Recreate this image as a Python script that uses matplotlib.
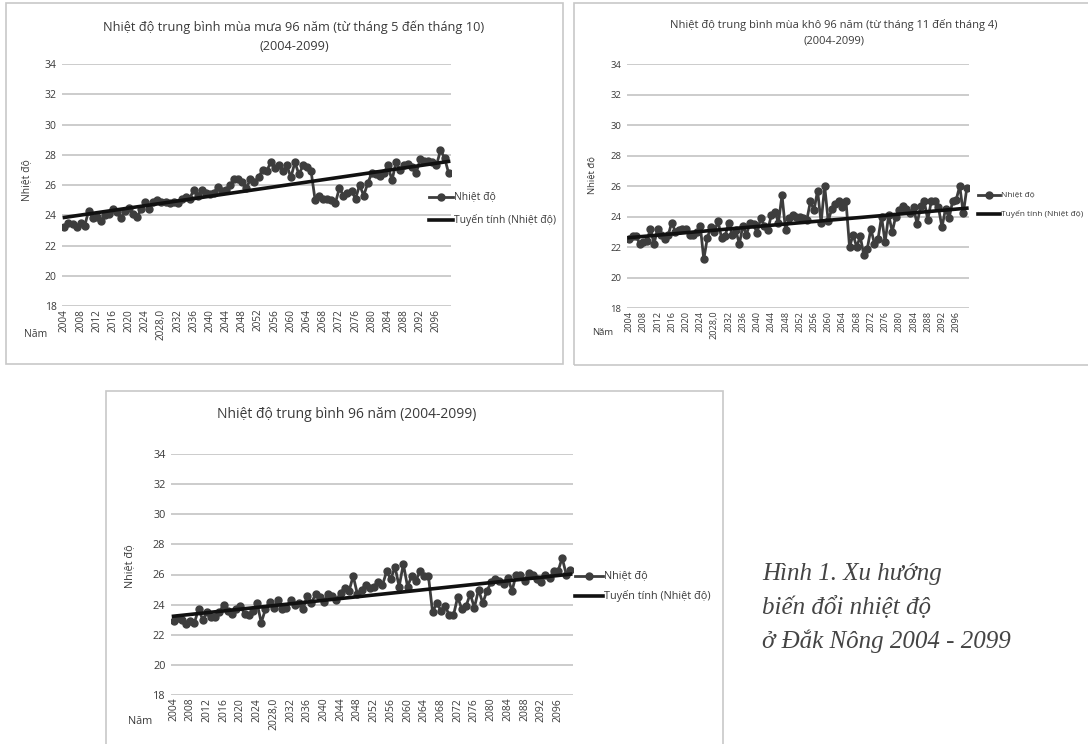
import numpy as np
import matplotlib
matplotlib.use("Agg")
import matplotlib.pyplot as plt
from matplotlib.patches import Rectangle

plt.rcParams['font.family'] = ['Open Sans', 'DejaVu Sans']

W, H = 1088, 744

years = list(range(2004, 2100))
tick_years = years[::4]
tick_labels = [("2028,0" if y == 2028 else str(y)) for y in tick_years]

# Mùa mưa (tháng 5 - tháng 10)
rainy = [
    23.2, 23.5, 23.4, 23.2, 23.5, 23.3, 24.3, 23.8,
    23.9, 23.6, 24.0, 24.1, 24.4, 24.2, 23.8, 24.3,
    24.5, 24.1, 23.9, 24.4, 24.9, 24.4, 24.9, 25.0,
    24.9, 24.9, 24.8, 24.9, 24.8, 25.1, 25.2, 25.1,
    25.7, 25.3, 25.7, 25.5, 25.4, 25.5, 25.9, 25.6,
    25.7, 26.0, 26.4, 26.4, 26.2, 25.8, 26.4, 26.2,
    26.5, 27.0, 26.9, 27.5, 27.1, 27.3, 26.9, 27.3,
    26.5, 27.5, 26.7, 27.3, 27.2, 26.9, 25.0, 25.3,
    25.1, 25.1, 25.0, 24.8, 25.8, 25.3, 25.5, 25.6,
    25.1, 26.0, 25.3, 26.1, 26.8, 26.7, 26.6, 26.8,
    27.3, 26.3, 27.5, 27.0, 27.3, 27.4, 27.2, 26.8,
    27.7, 27.6, 27.6, 27.5, 27.3, 28.3, 27.8, 26.8,
]

# Mùa khô (tháng 11 - tháng 4)
dry = [
    22.5, 22.7, 22.7, 22.2, 22.3, 22.4, 23.2, 22.2,
    23.2, 22.8, 22.5, 22.8, 23.6, 23.0, 23.1, 23.2,
    23.2, 22.8, 22.8, 23.0, 23.4, 21.2, 22.6, 23.3,
    23.0, 23.7, 22.6, 22.7, 23.6, 22.8, 23.1, 22.2,
    23.4, 22.8, 23.6, 23.5, 22.9, 23.9, 23.4, 23.1,
    24.1, 24.3, 23.6, 25.4, 23.1, 23.9, 24.1, 24.0,
    24.0, 23.9, 23.8, 25.0, 24.4, 25.7, 23.6, 26.0,
    23.7, 24.5, 24.8, 25.0, 24.6, 25.0, 22.0, 22.8,
    22.0, 22.7, 21.5, 21.9, 23.2, 22.2, 22.5, 24.0,
    22.3, 24.1, 23.0, 24.0, 24.4, 24.7, 24.5, 24.2,
    24.6, 23.5, 24.7, 25.0, 23.8, 25.0, 25.0, 24.6,
    23.3, 24.5, 23.9, 25.0, 25.1, 26.0, 24.2, 25.9,
]

# Trung bình năm
annual = [
    22.9, 23.1, 23.0, 22.7, 22.9, 22.8, 23.7, 23.0,
    23.5, 23.2, 23.2, 23.5, 24.0, 23.6, 23.4, 23.7,
    23.9, 23.4, 23.3, 23.6, 24.1, 22.8, 23.7, 24.2,
    23.8, 24.3, 23.7, 23.8, 24.3, 24.0, 24.1, 23.7,
    24.6, 24.1, 24.7, 24.5, 24.2, 24.7, 24.6, 24.3,
    24.8, 25.1, 24.9, 25.9, 24.7, 25.0, 25.3, 25.1,
    25.2, 25.5, 25.3, 26.2, 25.7, 26.5, 25.2, 26.7,
    25.2, 25.9, 25.6, 26.2, 25.9, 25.9, 23.5, 24.1,
    23.6, 23.9, 23.3, 23.3, 24.5, 23.7, 23.9, 24.7,
    23.8, 25.0, 24.1, 24.9, 25.5, 25.7, 25.6, 25.4,
    25.8, 24.9, 26.0, 26.0, 25.6, 26.1, 26.0, 25.7,
    25.5, 26.0, 25.8, 26.2, 26.2, 27.1, 26.0, 26.3,
]

yticks = [18, 20, 22, 24, 26, 28, 30, 32, 34]

GRID = '#c4c4c4'
LINE = '#3d3d3d'
TEXT = '#3a3a3a'


def box(l, t, r, b):
    return [l / W, 1 - b / H, (r - l) / W, (b - t) / H]


def fx(x):
    return x / W


def fy(y):
    return 1 - y / H


fig = plt.figure(figsize=(W / 100, H / 100), dpi=100)
fig.patch.set_facecolor('white')


def panel(l, t, r, b):
    fig.add_artist(Rectangle((fx(l), fy(b)), (r - l) / W, (b - t) / H,
                             transform=fig.transFigure, fill=False,
                             edgecolor='#c8c8c8', lw=1.2))


def draw_chart(values, axbox, title_lines, title_x, title_ys, title_fs,
               tick_fs, xtick_fs, nam_xy, ylab_xy, leg_x, leg_ys, leg_fs):
    ax = fig.add_axes(box(*axbox))
    ax.plot(years, values, color=LINE, lw=2, marker='o', ms=5,
            markerfacecolor=LINE, markeredgecolor=LINE, zorder=3)
    coef = np.polyfit(years, values, 1)
    trend = np.polyval(coef, [years[0], years[-1]])
    ax.plot([years[0], years[-1]], trend, color='#111111', lw=2.6, zorder=4)

    ax.set_xlim(years[0] - 0.6, years[-1] + 0.6)
    ax.set_ylim(18, 34)
    ax.set_yticks(yticks)
    ax.set_yticklabels([str(v) for v in yticks], fontsize=tick_fs, color=TEXT)
    ax.set_xticks(tick_years)
    ax.set_xticklabels(tick_labels, rotation=90, fontsize=xtick_fs, color=TEXT)
    ax.tick_params(length=0, pad=4)
    ax.tick_params(axis='x', pad=2)
    for s in ax.spines.values():
        s.set_visible(False)
    ax.grid(axis='y', color=GRID, lw=1.2)
    ax.set_axisbelow(True)

    for line, y in zip(title_lines, title_ys):
        fig.text(fx(title_x), fy(y), line, ha='center', va='center',
                 fontsize=title_fs, color=TEXT)
    fig.text(fx(nam_xy[0]), fy(nam_xy[1]), 'Năm', ha='left', va='center',
             fontsize=tick_fs, color=TEXT)
    fig.text(fx(ylab_xy[0]), fy(ylab_xy[1]), 'Nhiệt độ', ha='center',
             va='center', rotation=90, fontsize=tick_fs, color=TEXT)

    # chú giải
    x0, x1 = leg_x
    fig.add_artist(plt.Line2D([fx(x0), fx(x1)], [fy(leg_ys[0])] * 2,
                              transform=fig.transFigure, color=LINE, lw=2))
    fig.add_artist(plt.Line2D([fx((x0 + x1) / 2)], [fy(leg_ys[0])],
                              transform=fig.transFigure, color=LINE,
                              marker='o', ms=5))
    fig.add_artist(plt.Line2D([fx(x0), fx(x1)], [fy(leg_ys[1])] * 2,
                              transform=fig.transFigure, color='#111111', lw=2.6))
    fig.text(fx(x1 + 1), fy(leg_ys[0]), 'Nhiệt độ', ha='left', va='center',
             fontsize=leg_fs, color=TEXT)
    fig.text(fx(x1 + 1), fy(leg_ys[1]), 'Tuyến tính (Nhiệt độ)', ha='left',
             va='center', fontsize=leg_fs, color=TEXT)
    return ax


# Biểu đồ 1: mùa mưa
panel(6, 3, 563, 364)
draw_chart(rainy, (62, 64, 451, 306),
           ['Nhiệt độ trung bình mùa mưa 96 năm (từ tháng 5 đến tháng 10)',
            '(2004-2099)'], 294, (27, 46), 9.2, 7.5, 7.2,
           (24, 334), (27, 180), (429, 453), (197, 220), 7.5)

# Biểu đồ 2: mùa khô
panel(574, 3, 1095, 365)
draw_chart(dry, (627, 64, 969, 308),
           ['Nhiệt độ trung bình mùa khô 96 năm (từ tháng 11 đến tháng 4)',
            '(2004-2099)'], 834, (25, 41), 8.0, 6.8, 6.6,
           (592, 332), (592, 175), (978, 1000), (195, 214), 6.0)

# Biểu đồ 3: trung bình năm
panel(106, 391, 723, 760)
draw_chart(annual, (171, 454, 573, 695),
           ['Nhiệt độ trung bình 96 năm (2004-2099)'], 347, (415,), 10.0,
           7.8, 7.5, (128, 721), (130, 566), (575, 603), (576, 596), 7.8)

# Chú thích hình
cap = ['Hình 1. Xu hướng', 'biến đổi nhiệt độ', 'ở Đắk Nông 2004 - 2099']
for i, line in enumerate(cap):
    fig.text(fx(762), fy(574 + 33.5 * i), line, ha='left', va='center',
             fontsize=18, style='italic', color='#444444',
             family=['Liberation Serif', 'DejaVu Serif'])

fig.savefig('out.png', dpi=100, facecolor='white')
